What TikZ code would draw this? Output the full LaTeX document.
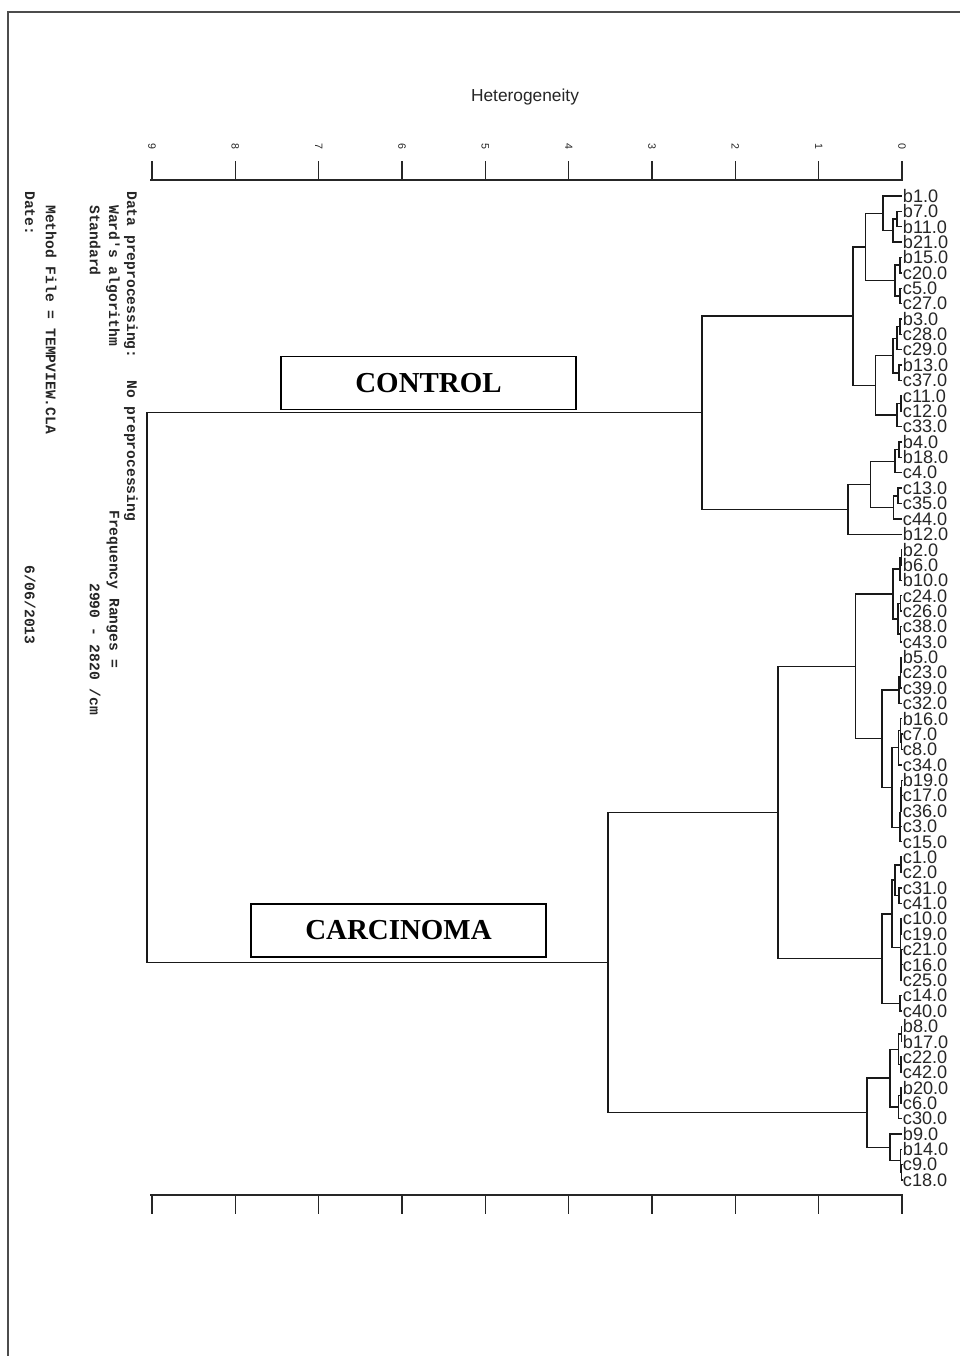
\documentclass[tikz,border=0pt]{standalone}
\usepackage{fontspec}
\setmainfont{Liberation Serif}
\newfontfamily\lsans{Liberation Sans}
\newfontfamily\lmono{Liberation Mono}
\usetikzlibrary{calc}
\tikzset{
 dline/.style={draw=black!90, line width=1.05pt},
 leaf/.style={anchor=west, inner xsep=0.5pt, inner ysep=0pt, font=\lsans\fontsize{13.6}{13.6}\selectfont, text=black!85},
 axisline/.style={draw=black!85, line width=1pt},
 ticklab/.style={font=\lsans\fontsize{8}{8}\selectfont, rotate=-90, inner sep=0pt, text=black!85},
 sidetext/.style={font=\lmono\bfseries\fontsize{11}{11}\selectfont, rotate=-90, anchor=west, inner sep=0pt, text=black!85},
 groupbox/.style={draw=black, line width=1.1pt, fill=white, minimum width=221.25pt, minimum height=39.75pt, font=\bfseries\fontsize{21.7}{21.7}\selectfont, inner sep=0pt},
 frameline/.style={draw=black!70, line width=1.5pt},
}
\newcommand\dmerge[4]{%
 \coordinate (tmpa) at ($(#3)!0.5!(#4)$);
 \coordinate (tmpb) at ({902-83.33*#2},0);
 \coordinate (#1) at (tmpb |- tmpa);
 \draw[dline] (#1) |- (#3);
 \draw[dline] (#1) |- (#4);
}
\begin{document}
\begin{tikzpicture}[x=0.75pt,y=-0.75pt]
\useasboundingbox (0,0) rectangle (960,1356);
\fill[white] (0,0) rectangle (960,1356);
\draw[frameline] (8,1356) -- (8,12) -- (960,12);

% title
\node[font=\lsans\fontsize{13}{13}\selectfont, text=black!85] (title) at (525,97) {Heterogeneity};

% axes
\draw[axisline] (150,180) -- (903,180);
\draw[axisline] (150,1195) -- (903,1195);
\foreach \k in {0,...,9}{
 \draw[axisline] ({902-83.33*\k},180) -- ({902-83.33*\k},161);
 \draw[axisline] ({902-83.33*\k},1195) -- ({902-83.33*\k},1214);
 \node[ticklab] (tl\k) at ({902-83.33*\k},146) {\k};
}

% side texts
\node[sidetext] (t1) at (131,191) {Data preprocessing:};
\node[sidetext] (t2) at (131,380) {No preprocessing};
\node[sidetext] (t3) at (113,205) {Ward's algorithm};
\node[sidetext] (t4) at (113,510) {Frequency Ranges =};
\node[sidetext] (t5) at (95,205) {Standard};
\node[sidetext] (t6) at (95,583) {2990 - 2820 /cm};
\node[sidetext] (t7) at (51,205) {Method File = TEMPVIEW.CLA};
\node[sidetext] (t8) at (30,191) {Date:};
\node[sidetext] (t9) at (30,565) {6/06/2013};

% leaves
\foreach \n [count=\i from 0] in {b1,b7,b11,b21,b15,c20,c5,c27,b3,c28,c29,b13,c37,c11,c12,c33,b4,b18,c4,c13,c35,c44,b12,b2,b6,b10,c24,c26,c38,c43,b5,c23,c39,c32,b16,c7,c8,c34,b19,c17,c36,c3,c15,c1,c2,c31,c41,c10,c19,c21,c16,c25,c14,c40,b8,b17,c22,c42,b20,c6,c30,b9,b14,c9,c18}{
 \node[leaf] (\n) at (902,{196+15.375*\i}) {\n.0};
}

% CONTROL cluster
\dmerge{m1}{0.06}{b7.west}{b11.west}
\dmerge{m2}{0.11}{m1}{b21.west}
\dmerge{mA}{0.23}{b1.west}{m2}
\dmerge{m3}{0.025}{b15.west}{c20.west}
\dmerge{m4}{0.025}{c5.west}{c27.west}
\dmerge{mB}{0.085}{m3}{m4}
\dmerge{C1a}{0.44}{mA}{mB}
\dmerge{m5}{0.025}{b3.west}{c28.west}
\dmerge{m6}{0.06}{m5}{c29.west}
\dmerge{m7}{0.035}{b13.west}{c37.west}
\dmerge{m8}{0.11}{m6}{m7}
\dmerge{m9}{0.012}{c11.west}{c12.west}
\dmerge{m10}{0.06}{m9}{c33.west}
\dmerge{C1b}{0.32}{m8}{m10}
\dmerge{C1}{0.59}{C1a}{C1b}
\dmerge{m11}{0.035}{b4.west}{b18.west}
\dmerge{m12}{0.085}{m11}{c4.west}
\dmerge{m13}{0.05}{c13.west}{c35.west}
\dmerge{m14}{0.1}{m13}{c44.west}
\dmerge{C2a}{0.38}{m12}{m14}
\dmerge{C2}{0.65}{C2a}{b12.west}
\dmerge{CONTROL}{2.4}{C1}{C2}

% CARCINOMA cluster
\dmerge{k1}{0.008}{b2.west}{b6.west}
\dmerge{k2}{0.025}{k1}{b10.west}
\dmerge{k3}{0.015}{c24.west}{c26.west}
\dmerge{k4}{0.015}{c38.west}{c43.west}
\dmerge{k5}{0.05}{k3}{k4}
\dmerge{K1aT}{0.11}{k2}{k5}
\dmerge{k6}{0.01}{b5.west}{c23.west}
\dmerge{k7}{0.02}{k6}{c39.west}
\dmerge{k8}{0.035}{k7}{c32.west}
\dmerge{k9}{0.005}{c7.west}{c8.west}
\dmerge{k10}{0.015}{b16.west}{k9}
\dmerge{k11}{0.045}{k10}{c34.west}
\dmerge{k12}{0.005}{b19.west}{c17.west}
\dmerge{k13}{0.01}{k12}{c36.west}
\dmerge{k14}{0.015}{k13}{c3.west}
\dmerge{k15}{0.025}{k14}{c15.west}
\dmerge{k16}{0.12}{k11}{k15}
\dmerge{K1aB}{0.24}{k8}{k16}
\dmerge{K1a}{0.56}{K1aT}{K1aB}
\dmerge{k17}{0.012}{c1.west}{c2.west}
\dmerge{k18}{0.035}{c31.west}{c41.west}
\dmerge{k19}{0.085}{k17}{k18}
\dmerge{k20}{0.01}{c10.west}{c19.west}
\dmerge{k21}{0.005}{c21.west}{c16.west}
\dmerge{k22}{0.012}{k21}{c25.west}
\dmerge{k23}{0.02}{k20}{k22}
\dmerge{K1bT}{0.12}{k19}{k23}
\dmerge{k24}{0.025}{c14.west}{c40.west}
\dmerge{K1b}{0.24}{K1bT}{k24}
\dmerge{K1}{1.49}{K1a}{K1b}
\dmerge{k25}{0.008}{b8.west}{b17.west}
\dmerge{k26}{0.01}{c22.west}{c42.west}
\dmerge{k27}{0.04}{k25}{k26}
\dmerge{k28}{0.012}{b20.west}{c6.west}
\dmerge{k29}{0.04}{k28}{c30.west}
\dmerge{K2a}{0.145}{k27}{k29}
\dmerge{k30}{0.005}{c9.west}{c18.west}
\dmerge{k31}{0.015}{b14.west}{k30}
\dmerge{K2b}{0.145}{b9.west}{k31}
\dmerge{K2}{0.42}{K2a}{K2b}
\dmerge{CARC}{3.53}{K1}{K2}
\dmerge{ROOT}{9.06}{CONTROL}{CARC}

% group boxes
\coordinate (cxa) at (428.5,0);
\coordinate (cxb) at (398.5,0);
\node[groupbox, anchor=south] (ctrlbox) at ($(CONTROL -| cxa)+(0,-2.5)$) {CONTROL};
\node[groupbox, anchor=south] (carcbox) at ($(CARC -| cxb)+(0,-5)$) {CARCINOMA};
\end{tikzpicture}
\end{document}
